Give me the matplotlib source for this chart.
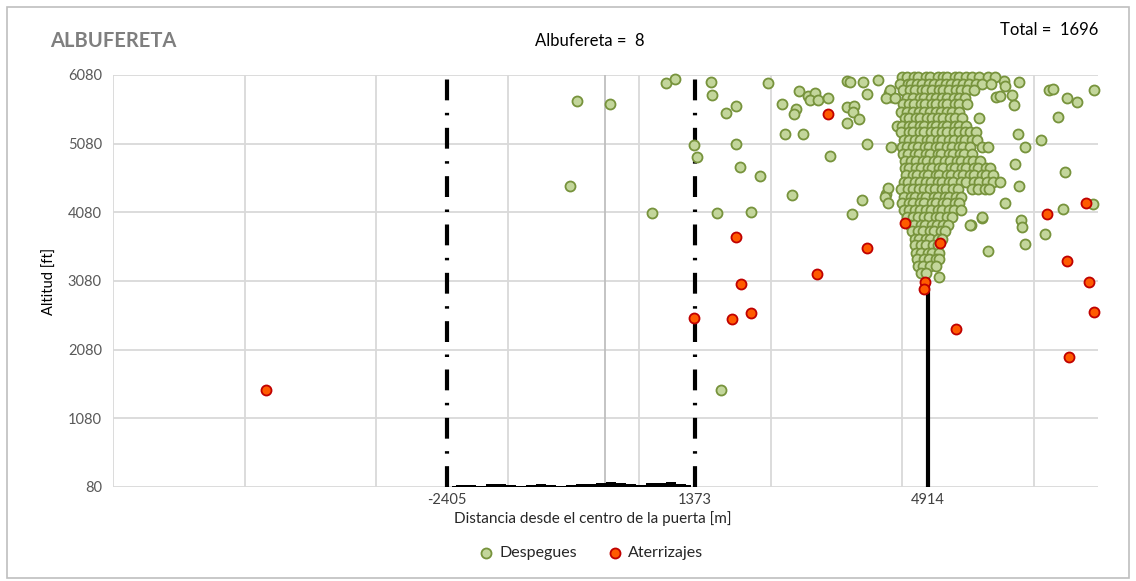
import matplotlib.pyplot as plt
import numpy as np
from matplotlib.patches import Rectangle

plt.rcParams['font.family'] = ['Lato', 'DejaVu Sans']

# despegues dispersos: distancia [m], altitud [ft]
desp_x = [-425, 75, -535, 715, 930, 1070, 1615, 1630, 2000, 1845, 1355, 1405, 2000, 2060,
          1710, 1770, 2485, 2960, 3095, 3200, 3125, 3235, 3400, 2700, 2900, 2880, 2745, 3020,
          3430, 2365, 2850, 2225, 3765, 3905, 4270, 4300, 3690, 3735, 3920, 4150, 3980, 3690,
          3795, 3780, 3860, 3690, 3980, 4315, 4345, 6070, 6085, 6300, 5950, 6010, 6190, 6220,
          6755, 6815, 7440, 7030, 7185, 6895, 6285, 6635, 6390, 6235, 7000, 6300, 6085, 7425,
          6970, 6330, 6345, 6695, 6390, 5825, 5080, 5565, 5735]
desp_y = [5700, 5655, 4465, 4070, 5960, 6020, 5975, 5790, 5630, 5525, 5060, 4885, 5075, 4740,
          4070, 1490, 5960, 5845, 5775, 5815, 5715, 5715, 5745, 5655, 5585, 5510, 5220, 5220,
          4900, 4610, 4330, 4085, 4055, 4260, 4345, 4435, 5990, 5975, 5975, 6005, 5800, 5615,
          5625, 5540, 5440, 5380, 5075, 5815, 5760, 5990, 5920, 5975, 5760, 5775, 5790, 5640,
          5860, 5875, 5860, 5745, 5685, 5465, 5220, 5130, 5030, 4785, 4665, 4465, 4215, 4200,
          4130, 3970, 3865, 3765, 3620, 3515, 3140, 3895, 4000]

# nube densa de despegues junto al umbral: altitud -> distancias
desp_nube = [
    (6050, [4520, 4590, 4700, 4770, 4890, 4950, 5060, 5150, 5210, 5320, 5380, 5500, 5590, 5690, 5830, 5940]),
    (5955, [4490, 4610, 4660, 4750, 4830, 4930, 5010, 5100, 5190, 5270, 5360, 5450, 5540, 5640, 5730, 5880]),
    (5862, [4330, 4540, 4640, 4720, 4820, 4880, 4980, 5090, 5150, 5240, 5340, 5410, 5510, 5620]),
    (5748, [4280, 4410, 4600, 4690, 4790, 4860, 4960, 5030, 5130, 5200, 5310, 5380, 5480]),
    (5655, [4530, 4630, 4700, 4810, 4870, 4980, 5040, 5150, 5210, 5320, 5390, 5510]),
    (5547, [4510, 4590, 4680, 4780, 4850, 4940, 5040, 5110, 5210, 5280, 5390]),
    (5446, [4560, 4630, 4730, 4800, 4900, 4970, 5070, 5140, 5250, 5320, 5430, 5690]),
    (5330, [4450, 4520, 4630, 4690, 4800, 4860, 4970, 5040, 5140, 5210, 5320, 5390, 5500]),
    (5242, [4510, 4620, 4680, 4790, 4850, 4960, 5030, 5130, 5200, 5310, 5380, 5480, 5550, 5650]),
    (5128, [4550, 4620, 4720, 4790, 4900, 4960, 5070, 5130, 5240, 5310, 5410, 5480, 5590, 5660]),
    (5036, [4350, 4520, 4590, 4690, 4760, 4870, 4930, 5040, 5100, 5210, 5280, 5380, 5450, 5560, 5740, 5830]),
    (4922, [4540, 4610, 4710, 4780, 4880, 4950, 5060, 5120, 5230, 5290, 5400, 5470, 5580]),
    (4831, [4560, 4660, 4730, 4840, 4900, 5010, 5070, 5180, 5250, 5350, 5420, 5530, 5600, 5710]),
    (4719, [4570, 4630, 4740, 4810, 4910, 4980, 5080, 5150, 5260, 5320, 5430, 5500, 5610, 5680, 5790, 5860]),
    (4628, [4580, 4680, 4750, 4860, 4920, 5030, 5090, 5200, 5270, 5370, 5440, 5550, 5620, 5730, 5800, 5910]),
    (4514, [4550, 4610, 4720, 4790, 4890, 4960, 5060, 5130, 5240, 5300, 5410, 5490, 5610, 5690, 5810, 5900, 6010]),
    (4426, [4500, 4610, 4680, 4780, 4850, 4950, 5020, 5130, 5190, 5300, 5370, 5590, 5670, 5780, 5850]),
    (4309, [4260, 4550, 4650, 4720, 4820, 4890, 5000, 5060, 5170, 5240, 5340, 5420]),
    (4221, [4310, 4520, 4630, 4690, 4800, 4860, 4970, 5040, 5140, 5210, 5320, 5390]),
    (4108, [4550, 4620, 4720, 4790, 4890, 4960, 5070, 5130, 5240, 5310, 5420]),
    (4016, [4590, 4690, 4760, 4860, 4930, 5040, 5100, 5210, 5280, 5740]),
    (3902, [4640, 4700, 4810, 4870, 4980, 5050, 5150, 5220, 5560]),
    (3811, [4670, 4770, 4840, 4940, 5010, 5120, 5180]),
    (3697, [4710, 4780, 4880, 4950, 5060, 5130]),
    (3611, [4710, 4810, 4880, 4990, 5060]),
    (3494, [4740, 4810, 4910, 4980, 5090]),
    (3406, [4750, 4860, 4930, 5040, 5090]),
    (3292, [4770, 4840, 4950, 5030]),
    (3195, [4810, 4890]),
]

aterr_x = [-5155, 3400, 4560, 3980, 5095, 2000, 3220, 2075, 2225, 1935, 1360, 4865, 4860,
           5340, 6725, 7320, 7030, 7365, 7440, 7060]
aterr_y = [1490, 5510, 3920, 3560, 3630, 3720, 3180, 3035, 2615, 2525, 2540, 3065, 2960,
           2380, 4055, 4215, 3370, 3065, 2630, 1975]

umbrales = [-2405, 1373]
umbral_final = 4914
umbral_final_alt = 3430

# perfil del terreno entre umbrales
perfil_x = [-2318, -2196, -2043, -1891, -1738, -1586, -1433, -1281, -1128, -976, -823, -671,
            -518, -366, -213, -61, 91, 244, 396, 549, 701, 854, 1006, 1159, 1311]
perfil_alt = [98, 112, 104, 92, 118, 124, 108, 98, 114, 118, 110, 92,
              116, 120, 130, 145, 150, 145, 124, 114, 140, 135, 155, 118, 102]

y_ticks = [80, 1080, 2080, 3080, 4080, 5080, 6080]
x_ticks = [-2405, 1373, 4914]
total = 1696
n_albufereta = 8

nube_x = [x for y, xs in desp_nube for x in xs]
nube_y = [y for y, xs in desp_nube for x in xs]
gx = np.array(desp_x + nube_x)
gy = np.array(desp_y + nube_y)

fig = plt.figure(figsize=(11.36, 5.81), dpi=100)
ax = fig.add_axes([0.0995, 0.1618, 0.867, 0.7092])

xmin, xmax = -7480, 7500
for gxl in range(xmin, xmax, 2000):
    ax.axvline(gxl, color='#d9d9d9', lw=1.3, zorder=0)
for t in y_ticks:
    ax.axhline(t, color='#d9d9d9', lw=1.3, zorder=0)
ax.axvline(0, color='#bfbfbf', lw=1.3, zorder=0)

for u in umbrales:
    ax.plot([u, u], [80, 6080], color='black', lw=3, dashes=[5, 3, 0.6, 3], zorder=1)
ax.plot([umbral_final, umbral_final], [80, umbral_final_alt], color='black', lw=3, zorder=1)
ax.fill_between(perfil_x, 80, perfil_alt, step='mid', color='black', lw=0, zorder=1)

ax.scatter(gx, gy, s=52, c='#c3d69b', edgecolors='#77933c', linewidths=1.3, zorder=3,
           label='Despegues', clip_on=False)
ax.scatter(aterr_x, aterr_y, s=52, c='#ff5b00', edgecolors='#c00000', linewidths=1.3, zorder=4,
           label='Aterrizajes', clip_on=False)

ax.set_xlim(xmin, xmax)
ax.set_ylim(80, 6080)
ax.set_yticks(y_ticks)
ax.set_yticklabels([str(t) for t in y_ticks], color='#595959', fontsize=10.5)
ax.set_xticks(x_ticks)
ax.set_xticklabels([str(t) for t in x_ticks], color='#404040', fontsize=10.5)
ax.tick_params(length=0, pad=8)
ax.tick_params(axis='x', pad=4)
for s in ax.spines.values():
    s.set_visible(False)

ax.set_xlabel('Distancia desde el centro de la puerta [m]', fontsize=11, color='#262626')
ax.xaxis.set_label_coords(0.487, -0.058)
ax.set_ylabel('Altitud [ft]', fontsize=10.5, color='black', labelpad=8)

fig.text(50 / 1136, 1 - 41 / 581, 'ALBUFERETA', fontsize=14.5, fontweight='bold', color='#7f7f7f',
         ha='left', va='center')
fig.text(590 / 1136, 1 - 41 / 581, 'Albufereta =  %d' % n_albufereta, fontsize=12, color='black',
         ha='center', va='center')
fig.text(1098 / 1136, 1 - 30 / 581, 'Total =  %d' % total, fontsize=12, color='black',
         ha='right', va='center')

fig.legend(loc='center', bbox_to_anchor=(0.52, 0.048), ncol=2, frameon=False, fontsize=11.5,
           handlelength=1.0, handletextpad=0.3, columnspacing=1.9, labelcolor='#262626')

fig.patches.append(Rectangle((0.0062, 0.005), 0.9877, 0.983, transform=fig.transFigure,
                             fill=False, ec='#bfbfbf', lw=1.2))

fig.savefig('out.png', dpi=100)
